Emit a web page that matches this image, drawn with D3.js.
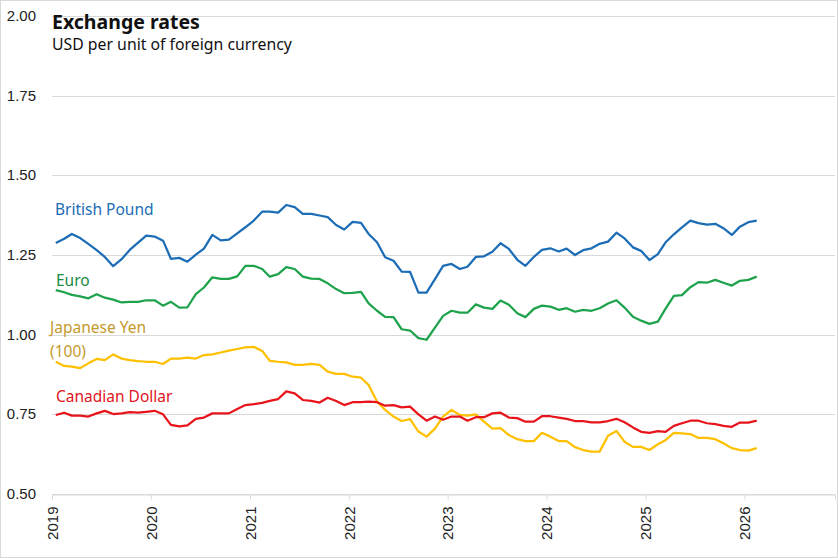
<!DOCTYPE html>
<html>
<head>
<meta charset="utf-8">
<script src="https://cdn.jsdelivr.net/npm/d3@7"></script>
<style>
  html, body { margin: 0; padding: 0; background: #fff; }
  svg { display: block; }
</style>
</head>
<body>
<svg id="chart" width="838" height="558"></svg>
<script>
// Monthly averages, Jan 2019 .. Feb 2026 (USD per unit; yen per 100)
const firstMonth = new Date(2019, 0, 15);
const monthCount = 86;

const gbp = [
  1.288, 1.301, 1.316, 1.303, 1.285, 1.265, 1.244, 1.215, 1.237, 1.266, 1.289, 1.311,
  1.308, 1.295, 1.238, 1.241, 1.229, 1.251, 1.270, 1.313, 1.296, 1.298, 1.318, 1.337,
  1.358, 1.386, 1.386, 1.383, 1.407, 1.400, 1.379, 1.379, 1.374, 1.369, 1.344, 1.330,
  1.354, 1.351, 1.316, 1.290, 1.243, 1.232, 1.198, 1.197, 1.132, 1.132, 1.174, 1.216,
  1.222, 1.206, 1.213, 1.244, 1.246, 1.260, 1.287, 1.269, 1.235, 1.216, 1.244, 1.266,
  1.271, 1.261, 1.270, 1.250, 1.265, 1.271, 1.285, 1.292, 1.320, 1.302, 1.274, 1.263,
  1.234, 1.253, 1.289, 1.315, 1.337, 1.358, 1.350, 1.345, 1.348, 1.334, 1.313, 1.339,
  1.353, 1.358
];
const eur = [
  1.140, 1.133, 1.125, 1.120, 1.114, 1.127, 1.116, 1.110, 1.101, 1.103, 1.103, 1.108,
  1.108, 1.091, 1.103, 1.085, 1.086, 1.127, 1.148, 1.180, 1.175, 1.175, 1.183, 1.216,
  1.216, 1.206, 1.182, 1.190, 1.212, 1.206, 1.182, 1.176, 1.175, 1.161, 1.143, 1.130,
  1.131, 1.134, 1.098, 1.075, 1.056, 1.055, 1.017, 1.013, 0.989, 0.984, 1.022, 1.059,
  1.075, 1.069, 1.069, 1.095, 1.085, 1.081, 1.107, 1.094, 1.067, 1.055, 1.081, 1.091,
  1.088, 1.078, 1.083, 1.072, 1.078, 1.075, 1.083, 1.098, 1.108, 1.085, 1.056, 1.044,
  1.034, 1.041, 1.081, 1.122, 1.124, 1.149, 1.165, 1.163, 1.172, 1.163, 1.154, 1.169,
  1.172, 1.182
];
const jpy = [
  0.915, 0.902, 0.900, 0.895, 0.910, 0.924, 0.920, 0.938, 0.925, 0.920, 0.917, 0.915,
  0.915, 0.908, 0.925, 0.925, 0.928, 0.925, 0.936, 0.938, 0.944, 0.950, 0.955, 0.960,
  0.962, 0.949, 0.918, 0.915, 0.913, 0.905, 0.905, 0.908, 0.905, 0.884, 0.877, 0.877,
  0.868, 0.865, 0.842, 0.790, 0.764, 0.743, 0.729, 0.735, 0.696, 0.680, 0.705, 0.743,
  0.764, 0.748, 0.746, 0.750, 0.727, 0.705, 0.707, 0.685, 0.672, 0.666, 0.666, 0.692,
  0.680, 0.666, 0.666, 0.647, 0.638, 0.633, 0.633, 0.683, 0.698, 0.664, 0.648, 0.648,
  0.638, 0.656, 0.669, 0.692, 0.690, 0.688, 0.676, 0.676, 0.672, 0.659, 0.644, 0.638,
  0.636, 0.644
];
const cad = [
  0.748, 0.755, 0.746, 0.746, 0.743, 0.753, 0.761, 0.751, 0.753, 0.757, 0.755, 0.758,
  0.761, 0.750, 0.717, 0.712, 0.715, 0.736, 0.740, 0.753, 0.753, 0.753, 0.767, 0.779,
  0.782, 0.786, 0.792, 0.798, 0.822, 0.816, 0.795, 0.792, 0.787, 0.802, 0.792, 0.779,
  0.788, 0.788, 0.790, 0.788, 0.777, 0.779, 0.772, 0.774, 0.750, 0.730, 0.743, 0.733,
  0.743, 0.743, 0.730, 0.741, 0.741, 0.753, 0.755, 0.740, 0.738, 0.727, 0.727, 0.744,
  0.744, 0.740, 0.736, 0.729, 0.729, 0.725, 0.725, 0.729, 0.736, 0.725, 0.709, 0.695,
  0.692, 0.697, 0.695, 0.714, 0.722, 0.730, 0.730, 0.722, 0.719, 0.714, 0.711, 0.724,
  0.724, 0.730
];

const yTicks = [0.50, 0.75, 1.00, 1.25, 1.50, 1.75, 2.00];
const seriesNames = ["British Pound", "Euro", "Japanese Yen", "Canadian Dollar"];
const seriesColors = ["#1c6db6", "#1ea34c", "#ffc000", "#e8141c"];
const labelColors = ["#1c6db6", "#1a8a45", "#c49a2c", "#e0141c"];

const months = d3.range(monthCount).map(i => d3.timeMonth.offset(firstMonth, i));
const series = [gbp, eur, jpy, cad];

const svg = d3.select("#chart");
const W = 838, H = 558;

// outer frame
svg.append("rect")
  .attr("x", 0.5).attr("y", 0.5)
  .attr("width", W - 1).attr("height", H - 1)
  .attr("fill", "#fff").attr("stroke", "#d9d9d9");

const x = d3.scaleTime()
  .domain([new Date(2019, 0, 1), new Date(2026, 11, 1)])
  .range([52, 835]);
const y = d3.scaleLinear().domain([0.5, 2.0]).range([494, 16]);

// gridlines
svg.append("g")
  .selectAll("line")
  .data(yTicks)
  .join("line")
  .attr("x1", 52).attr("x2", 835)
  .attr("y1", d => Math.round(y(d)) + 0.5)
  .attr("y2", d => Math.round(y(d)) + 0.5)
  .attr("stroke", "#d9d9d9").attr("stroke-width", 1);

// y labels
svg.append("g")
  .selectAll("text")
  .data(yTicks)
  .join("text")
  .attr("x", 36)
  .attr("y", d => y(d) + 5)
  .attr("text-anchor", "end")
  .attr("font-family", "'Liberation Sans', Arial, sans-serif")
  .attr("font-size", 15)
  .attr("fill", "#222")
  .text(d => d.toFixed(2));

// x axis, year ticks with rotated labels
const xAxis = d3.axisBottom(x)
  .ticks(d3.timeYear.every(1))
  .tickFormat(d3.timeFormat("%Y"))
  .tickSize(5)
  .tickPadding(6);

const gx = svg.append("g")
  .attr("transform", `translate(0,${Math.round(y(0.5)) + 0.5})`)
  .call(xAxis);
gx.select(".domain").attr("stroke", "#d9d9d9");
gx.selectAll(".tick line").attr("stroke", "#d9d9d9");
gx.selectAll(".tick text")
  .attr("font-family", "'Liberation Sans', Arial, sans-serif")
  .attr("font-size", 15)
  .attr("fill", "#222")
  .attr("transform", "rotate(-90)")
  .attr("text-anchor", "end")
  .attr("x", -12)
  .attr("y", 0)
  .attr("dy", "0.35em");

// lines
const line = d3.line()
  .x((d, i) => x(months[i]))
  .y(d => y(d));

svg.append("g")
  .selectAll("path")
  .data(series)
  .join("path")
  .attr("d", d => line(d))
  .attr("fill", "none")
  .attr("stroke", (d, i) => seriesColors[i])
  .attr("stroke-width", 2.25)
  .attr("stroke-linejoin", "round");

// series labels
const labelFont = "'Noto Sans', sans-serif";
const labels = [
  { lines: ["British Pound"], x: 55, y: 215 },
  { lines: ["Euro"], x: 56, y: 286 },
  { lines: ["Japanese Yen", "(100)"], x: 50, y: 333 },
  { lines: ["Canadian Dollar"], x: 56, y: 402 }
];
labels.forEach((l, i) => {
  const t = svg.append("text")
    .attr("x", l.x).attr("y", l.y)
    .attr("font-family", labelFont)
    .attr("font-size", 15.5)
    .attr("fill", labelColors[i]);
  l.lines.forEach((s, j) => {
    t.append("tspan").attr("x", l.x).attr("dy", j === 0 ? 0 : 24).text(s);
  });
});

// title
svg.append("text")
  .attr("x", 52).attr("y", 29)
  .attr("font-family", labelFont)
  .attr("font-size", 19.5)
  .attr("font-weight", "bold")
  .attr("fill", "#111")
  .text("Exchange rates");
svg.append("text")
  .attr("x", 52).attr("y", 50)
  .attr("font-family", labelFont)
  .attr("font-size", 15.8)
  .attr("fill", "#111")
  .text("USD per unit of foreign currency");
</script>
</body>
</html>
